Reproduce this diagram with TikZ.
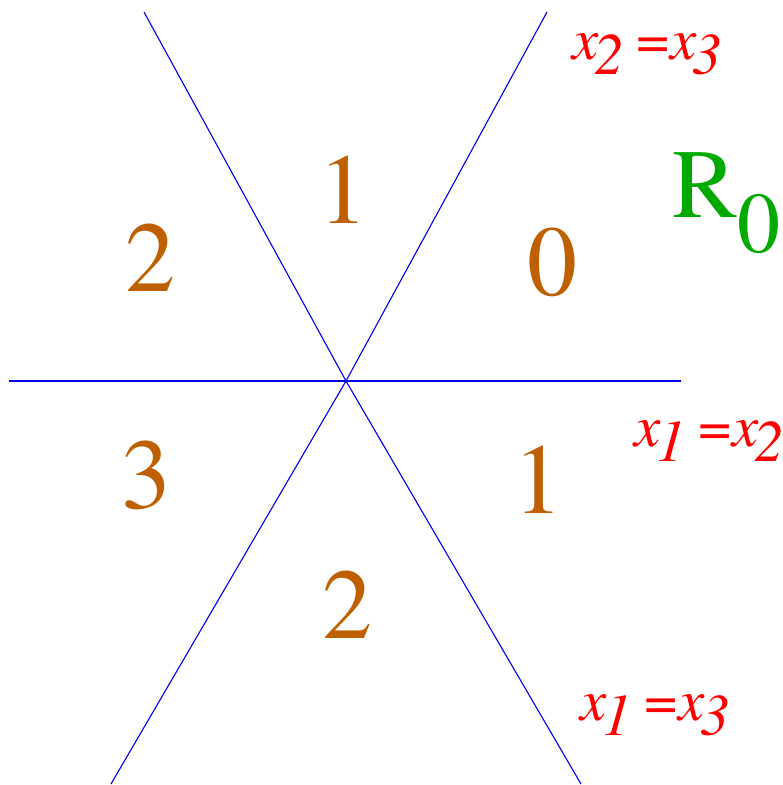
\documentclass[tikz,border=0pt]{standalone}
\usepackage{fontspec}
\setmainfont{TeX Gyre Termes}
\definecolor{lineblue}{RGB}{0,0,235}
\definecolor{numorange}{RGB}{190,95,0}
\definecolor{rgreen}{RGB}{0,170,0}
\definecolor{lblred}{RGB}{255,0,0}
\newcommand{\lblsub}[1]{\kern-4bp\raisebox{-15bp}{\textit{#1}}}
\newcommand{\lbleq}[4]{\textit{#1}\lblsub{#2}\kern12bp=\kern1bp\textit{#3}\lblsub{#4}}
\begin{document}
\begin{tikzpicture}[x=1bp,y=-1bp,
  ray/.style={draw=lineblue,line width=1.1bp},
  num/.style={text=numorange,inner sep=0pt,font=\fontsize{100bp}{100bp}\selectfont},
  eqlbl/.style={text=lblred,inner sep=0pt,anchor=base west,font=\fontsize{59bp}{59bp}\selectfont},
  rlbl/.style={text=rgreen,inner sep=0pt,anchor=base west,font=\fontsize{98bp}{98bp}\selectfont}]
\useasboundingbox (0,0) rectangle (783,785);
\coordinate (c) at (346,381);
\coordinate (ul) at (144,12);
\coordinate (ur) at (547,12);
\coordinate (ll) at (111,784);
\coordinate (lr) at (581,784);
\coordinate (l) at (9,381);
\coordinate (r) at (681,381);
\foreach \e in {ul,ur,ll,lr,l,r} \draw[ray] (c) -- (\e);
\node[num] (n1) at (343,190) {1};
\node[num] (n0) at (552,262) {0};
\node[num] (n2a) at (150,258) {2};
\node[num] (n3) at (146,475) {3};
\node[num] (n1b) at (538,480) {1};
\node[num] (n2b) at (347,605) {2};
\node[eqlbl] (e23) at (572,60) {\lbleq{x}{2}{x}{3}};
\node[eqlbl] (e12) at (634,446) {\lbleq{x}{1}{x}{2}};
\node[eqlbl] (e13) at (580,720) {\lbleq{x}{1}{x}{3}};
\node[rlbl] (R0) at (672,217) {R\raisebox{-35bp}{\fontsize{86bp}{86bp}\selectfont 0}};
\end{tikzpicture}
\end{document}
